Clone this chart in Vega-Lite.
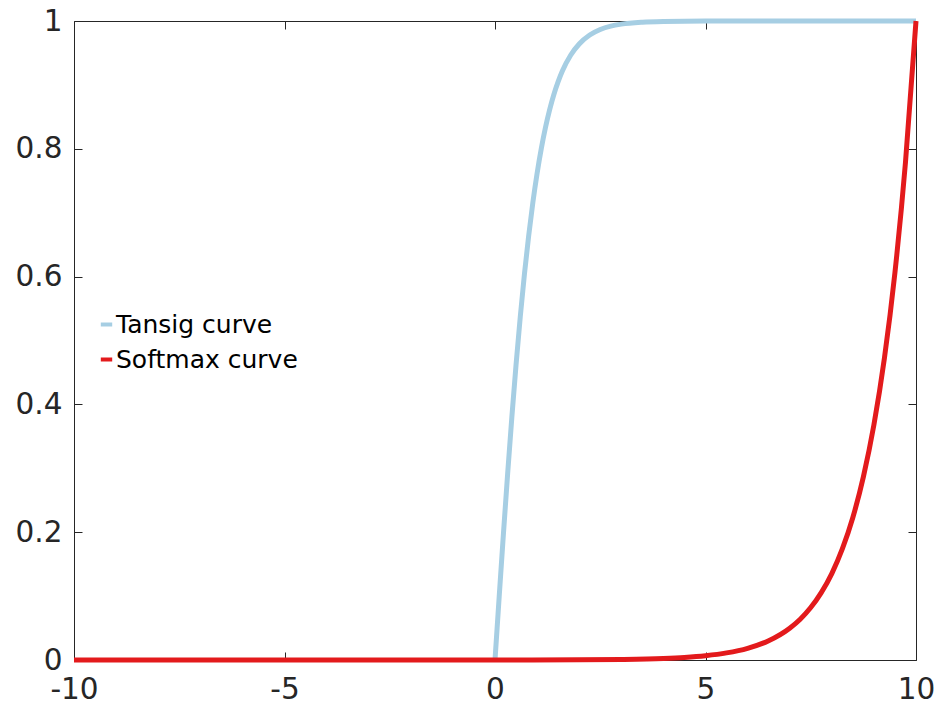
{
  "$schema": "https://vega.github.io/schema/vega-lite/v6.json",
  "autosize": "none",
  "width": 842,
  "height": 639,
  "padding": {"left": 74, "top": 21, "right": 22, "bottom": 47},
  "background": "white",
  "config": {
    "view": {"stroke": "#262626", "strokeWidth": 1},
    "font": "DejaVu Sans",
    "axis": {
      "domain": false,
      "grid": false,
      "tickColor": "#262626",
      "tickWidth": 1,
      "tickSize": -8,
      "labelColor": "#262626",
      "labelFont": "DejaVu Sans",
      "labelFontSize": 29.5,
      "title": null
    }
  },
  "data": {
    "values": [
      {"x": 0, "y": 0, "s": "Tansig curve"},
      {"x": 0.1, "y": 0.0997, "s": "Tansig curve"},
      {"x": 0.2, "y": 0.1974, "s": "Tansig curve"},
      {"x": 0.3, "y": 0.2913, "s": "Tansig curve"},
      {"x": 0.4, "y": 0.3799, "s": "Tansig curve"},
      {"x": 0.5, "y": 0.4621, "s": "Tansig curve"},
      {"x": 0.6, "y": 0.537, "s": "Tansig curve"},
      {"x": 0.7, "y": 0.6044, "s": "Tansig curve"},
      {"x": 0.8, "y": 0.664, "s": "Tansig curve"},
      {"x": 0.9, "y": 0.7163, "s": "Tansig curve"},
      {"x": 1.0, "y": 0.7616, "s": "Tansig curve"},
      {"x": 1.1, "y": 0.8005, "s": "Tansig curve"},
      {"x": 1.2, "y": 0.8337, "s": "Tansig curve"},
      {"x": 1.3, "y": 0.8617, "s": "Tansig curve"},
      {"x": 1.4, "y": 0.8854, "s": "Tansig curve"},
      {"x": 1.5, "y": 0.9051, "s": "Tansig curve"},
      {"x": 1.6, "y": 0.9217, "s": "Tansig curve"},
      {"x": 1.8, "y": 0.9468, "s": "Tansig curve"},
      {"x": 2.0, "y": 0.964, "s": "Tansig curve"},
      {"x": 2.25, "y": 0.978, "s": "Tansig curve"},
      {"x": 2.5, "y": 0.9866, "s": "Tansig curve"},
      {"x": 2.75, "y": 0.9919, "s": "Tansig curve"},
      {"x": 3.0, "y": 0.9951, "s": "Tansig curve"},
      {"x": 3.5, "y": 0.9982, "s": "Tansig curve"},
      {"x": 4.0, "y": 0.9993, "s": "Tansig curve"},
      {"x": 5.0, "y": 0.9999, "s": "Tansig curve"},
      {"x": 6.0, "y": 1.0, "s": "Tansig curve"},
      {"x": 8.0, "y": 1.0, "s": "Tansig curve"},
      {"x": 10.0, "y": 1.0, "s": "Tansig curve"},
      {"x": -10, "y": 0, "s": "Softmax curve"},
      {"x": -5, "y": 0.0000003, "s": "Softmax curve"},
      {"x": 0, "y": 0.000045, "s": "Softmax curve"},
      {"x": 2, "y": 0.000335, "s": "Softmax curve"},
      {"x": 3, "y": 0.000912, "s": "Softmax curve"},
      {"x": 4, "y": 0.00248, "s": "Softmax curve"},
      {"x": 4.5, "y": 0.00409, "s": "Softmax curve"},
      {"x": 5, "y": 0.00674, "s": "Softmax curve"},
      {"x": 5.5, "y": 0.0111, "s": "Softmax curve"},
      {"x": 6, "y": 0.0183, "s": "Softmax curve"},
      {"x": 6.5, "y": 0.0302, "s": "Softmax curve"},
      {"x": 7, "y": 0.0498, "s": "Softmax curve"},
      {"x": 7.25, "y": 0.0639, "s": "Softmax curve"},
      {"x": 7.5, "y": 0.0821, "s": "Softmax curve"},
      {"x": 7.75, "y": 0.1054, "s": "Softmax curve"},
      {"x": 8, "y": 0.1353, "s": "Softmax curve"},
      {"x": 8.25, "y": 0.1738, "s": "Softmax curve"},
      {"x": 8.5, "y": 0.2231, "s": "Softmax curve"},
      {"x": 8.75, "y": 0.2865, "s": "Softmax curve"},
      {"x": 9, "y": 0.3679, "s": "Softmax curve"},
      {"x": 9.25, "y": 0.4724, "s": "Softmax curve"},
      {"x": 9.5, "y": 0.6065, "s": "Softmax curve"},
      {"x": 9.75, "y": 0.7788, "s": "Softmax curve"},
      {"x": 10, "y": 1.0, "s": "Softmax curve"}
    ]
  },
  "layer": [
    {
      "mark": {"type": "line", "strokeWidth": 5, "interpolate": "monotone", "clip": false},
      "encoding": {
        "x": {
          "field": "x", "type": "quantitative",
          "scale": {"domain": [-10, 10], "nice": false, "zero": false},
          "axis": {"orient": "bottom", "values": [-10, -5, 0, 5, 10], "labelExpr": "'' + datum.value", "labelPadding": 23, "labelFlush": false, "labelOverlap": false}
        },
        "y": {
          "field": "y", "type": "quantitative",
          "scale": {"domain": [0, 1], "nice": false},
          "axis": {"orient": "left", "values": [0, 0.2, 0.4, 0.6, 0.8, 1], "labelExpr": "'' + datum.value", "labelPadding": 20, "labelFlush": false, "labelOverlap": false}
        },
        "color": {
          "field": "s", "type": "nominal",
          "scale": {"domain": ["Tansig curve", "Softmax curve"], "range": ["#a6cee3", "#e31a1c"]},
          "legend": {
            "title": null,
            "orient": "none",
            "legendX": 20,
            "legendY": 291,
            "symbolType": "stroke",
            "symbolSize": 130,
            "symbolStrokeWidth": 4,
            "labelFont": "DejaVu Sans",
            "labelFontSize": 25,
            "labelColor": "#000000",
            "labelOffset": -3,
            "labelLimit": 400,
            "rowPadding": 9,
            "padding": 0
          }
        },
        "detail": {"field": "s"}
      }
    },
    {
      "mark": {"type": "line", "opacity": 0},
      "encoding": {
        "x": {
          "field": "x", "type": "quantitative",
          "axis": {"orient": "top", "values": [-10, -5, 0, 5, 10], "labels": false}
        },
        "y": {
          "field": "y", "type": "quantitative",
          "axis": {"orient": "right", "values": [0, 0.2, 0.4, 0.6, 0.8, 1], "labels": false}
        }
      }
    }
  ],
  "resolve": {"axis": {"x": "independent", "y": "independent"}}
}
